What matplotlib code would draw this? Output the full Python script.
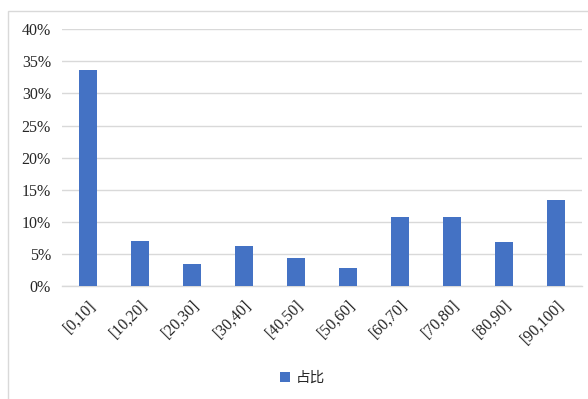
import numpy as np
import matplotlib.pyplot as plt
from matplotlib.patches import Rectangle
from matplotlib.ticker import PercentFormatter

# score bands and share of each band
bands = ["[0,10]", "[10,20]", "[20,30]", "[30,40]", "[40,50]",
         "[50,60]", "[60,70]", "[70,80]", "[80,90]", "[90,100]"]
share = [0.336, 0.070, 0.034, 0.062, 0.043, 0.028, 0.108, 0.107, 0.069, 0.134]
series_name = "占比"

bar_color = "#4472C4"
grid_color = "#D9D9D9"
text_color = "#262626"

plt.rcParams['font.family'] = ['Liberation Serif', 'Noto Sans CJK SC', 'DejaVu Sans']

fig = plt.figure(figsize=(5.88, 3.99), dpi=100)
ax = fig.add_axes([62 / 588, 1 - 286 / 399, 520 / 588, (286 - 29.3) / 399])

x = np.arange(len(bands))
ax.bar(x, share, width=0.33, color=bar_color, zorder=3, label=series_name)

ax.set_xlim(-0.5, len(bands) - 0.5)
ax.set_ylim(0, 0.40)
ax.set_yticks(np.arange(0, 0.401, 0.05))
ax.yaxis.set_major_formatter(PercentFormatter(1.0, decimals=0))
ax.grid(axis='y', color=grid_color, linewidth=1.0, zorder=0)

ax.set_xticks(x)
ax.set_xticklabels(bands, rotation=45, ha='right', rotation_mode='anchor')
ax.tick_params(axis='both', length=0, labelsize=11.5, colors=text_color)
ax.tick_params(axis='x', pad=8)
ax.tick_params(axis='y', pad=8)

for s in ['top', 'right', 'left']:
    ax.spines[s].set_visible(False)
ax.spines['bottom'].set_color(grid_color)
ax.spines['bottom'].set_linewidth(1.0)

# light frame around the chart area
fig.patches.append(Rectangle((8 / 588, -0.1), 1.2, 1.1 - 11 / 399,
                             transform=fig.transFigure, fill=False,
                             edgecolor=grid_color, linewidth=1.0))

leg = fig.legend(loc='center', bbox_to_anchor=(0.514, 0.053), frameon=False,
                 handlelength=0.7, handleheight=0.7, handletextpad=0.4,
                 prop={'family': ['Noto Sans CJK SC'], 'size': 10.5})
for t in leg.get_texts():
    t.set_color(text_color)

fig.savefig("out.png", dpi=100)
